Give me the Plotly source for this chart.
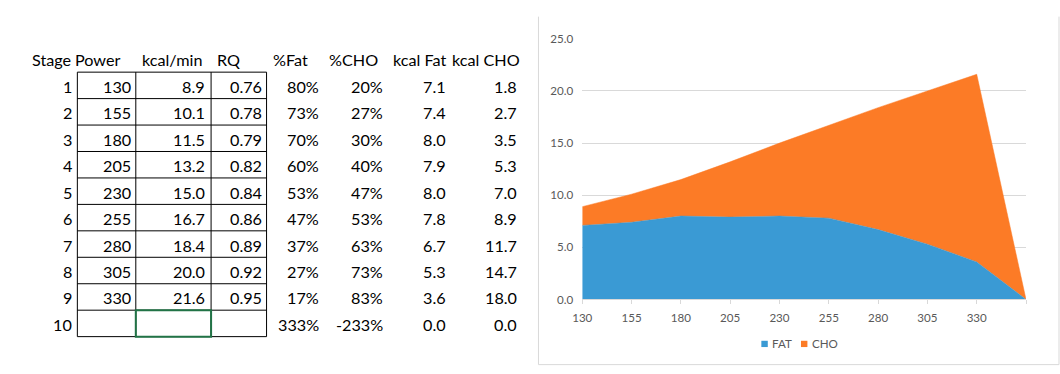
import plotly.graph_objects as go

# ---------------- data ----------------
stage = [1, 2, 3, 4, 5, 6, 7, 8, 9, 10]
power = [130, 155, 180, 205, 230, 255, 280, 305, 330, None]
kcal_per_min = [8.9, 10.1, 11.5, 13.2, 15.0, 16.7, 18.4, 20.0, 21.6, None]
rq = [0.76, 0.78, 0.79, 0.82, 0.84, 0.86, 0.89, 0.92, 0.95, None]
pct_fat = [80, 73, 70, 60, 53, 47, 37, 27, 17, 333]
pct_cho = [20, 27, 30, 40, 47, 53, 63, 73, 83, -233]
kcal_fat = [7.1, 7.4, 8.0, 7.9, 8.0, 7.8, 6.7, 5.3, 3.6, 0.0]
kcal_cho = [1.8, 2.7, 3.5, 5.3, 7.0, 8.9, 11.7, 14.7, 18.0, 0.0]
x_labels = [str(p) if p is not None else "" for p in power]
series_names = ["FAT", "CHO"]

W, H = 1060, 374
FAT_C = "#3A9AD4"
CHO_C = "#FC7B26"
GRID = "#D9D9D9"
TXT = "#595959"
TABLE_FONT = "Lato"


def px(x):
    return x / W


def py(y):
    return 1 - y / H


fig = go.Figure()
idx = list(range(len(kcal_fat)))
fig.add_trace(go.Scatter(x=idx, y=kcal_fat, name=series_names[0], stackgroup="one",
                         mode="lines", line=dict(width=0.5, color=FAT_C), fillcolor=FAT_C,
                         showlegend=False, hoverinfo="skip"))
fig.add_trace(go.Scatter(x=idx, y=kcal_cho, name=series_names[1], stackgroup="one",
                         mode="lines", line=dict(width=0.5, color=CHO_C), fillcolor=CHO_C,
                         showlegend=False, hoverinfo="skip"))

shapes = []
annotations = []

# ---------------- table ----------------
top, row_h = 67.5, 27.4
col_lines = [68, 127, 203, 259]
n = len(stage)
for i in range(n + 1):
    y = top + i * row_h
    shapes.append(dict(type="line", xref="paper", yref="paper", x0=px(col_lines[0]), x1=px(col_lines[-1]),
                       y0=py(y), y1=py(y), line=dict(color="black", width=1)))
for x in col_lines:
    shapes.append(dict(type="line", xref="paper", yref="paper", x0=px(x), x1=px(x),
                       y0=py(top), y1=py(top + n * row_h), line=dict(color="black", width=1)))

# selected cell (green)
sel_r = 9
shapes.append(dict(type="rect", xref="paper", yref="paper", x0=px(127), x1=px(203),
                   y0=py(top + sel_r * row_h), y1=py(top + (sel_r + 1) * row_h),
                   line=dict(color="#217346", width=2)))


def fmt(v, f):
    return "" if v is None else f(v)


columns = [
    ("Stage", 20, stage, 65, lambda v: str(v)),
    ("Power", 63.5, power, 124, lambda v: str(v)),
    ("kcal/min", 131.5, kcal_per_min, 199, lambda v: f"{v:.1f}"),
    ("RQ", 207, rq, 256, lambda v: f"{v:.2f}"),
    ("%Fat", 263, pct_fat, 314, lambda v: f"{v}%"),
    ("%CHO", 320, pct_cho, 379, lambda v: f"{v}%"),
    ("kcal Fat", 384.5, kcal_fat, 442, lambda v: f"{v:.1f}"),
    ("kcal CHO", 444, kcal_cho, 514, lambda v: f"{v:.1f}"),
]
tf = dict(family=TABLE_FONT, size=16.2, color="black")
for head, hx, vals, rx, f in columns:
    annotations.append(dict(xref="paper", yref="paper", x=px(hx), y=py(top - row_h / 2 + 0.5),
                            text=head, showarrow=False, xanchor="left", yanchor="middle", font=tf))
    for i, v in enumerate(vals):
        annotations.append(dict(xref="paper", yref="paper", x=px(rx), y=py(top + (i + 0.5) * row_h + 1),
                                text=fmt(v, f), showarrow=False, xanchor="right", yanchor="middle", font=tf))

# ---------------- chart frame ----------------
for (x0, y0, x1, y1) in [(533.5, 10, 533.5, 370.5), (533.5, 370.5, 1059, 370.5), (1059, 10, 1059, 370.5)]:
    shapes.append(dict(type="line", xref="paper", yref="paper", x0=px(x0), x1=px(x1), y0=py(y0), y1=py(y1),
                       line=dict(color=GRID, width=1)))

# legend (Excel style small squares)
leg = [(series_names[0], FAT_C, 758.5), (series_names[1], CHO_C, 798.5)]
for name, c, lx in leg:
    shapes.append(dict(type="rect", xref="paper", yref="paper", x0=px(lx), x1=px(lx + 6.5),
                       y0=py(345.8), y1=py(352.3), fillcolor=c, line=dict(width=0)))
    annotations.append(dict(xref="paper", yref="paper", x=px(lx + 9), y=py(349), text=name,
                            showarrow=False, xanchor="left", yanchor="middle",
                            font=dict(family=TABLE_FONT, size=11.6, color=TXT)))

fig.update_layout(
    width=W, height=H,
    margin=dict(l=0, r=0, t=0, b=0),
    paper_bgcolor="white", plot_bgcolor="white",
    showlegend=False,
    shapes=shapes, annotations=annotations,
    font=dict(family=TABLE_FONT, size=11.6, color=TXT),
    xaxis=dict(domain=[px(577.7), px(1025.7)], range=[0, len(idx) - 1], tickmode="array",
               tickvals=idx, ticktext=x_labels, showgrid=False, zeroline=False,
               showline=True, linecolor=GRID, linewidth=1, ticks="outside", ticklen=4,
               tickcolor=GRID, tickwidth=1, ticklabelstandoff=4, fixedrange=True),
    yaxis=dict(domain=[py(303), py(33)], range=[0, 25], dtick=5, tickformat=".1f",
               showgrid=True, gridcolor=GRID, gridwidth=1, zeroline=False, showline=False,
               ticks="", ticklabelstandoff=8, fixedrange=True),
)

fig.write_html("out.html", config={"displayModeBar": False},
               post_script="document.body.style.margin='0';document.body.style.overflow='hidden';")
